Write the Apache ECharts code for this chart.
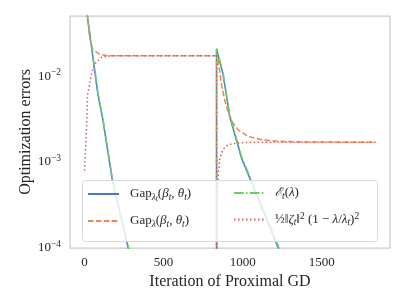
<!DOCTYPE html>
<html>
<head>
<meta charset="utf-8">
<script src="https://cdn.jsdelivr.net/npm/echarts@6/dist/echarts.min.js"></script>
<style>html,body{margin:0;padding:0;background:#fff}#c{width:407px;height:305px}</style>
</head>
<body>
<div id="c"></div>
<script>
// ---- data ----
const xTicks = [0, 500, 1000, 1500];
const yTicks = [1e-4, 1e-3, 1e-2];

const iterBlue = [0, 19, 84, 116, 175, 274, 300, 835, 835, 875, 918, 960, 992, 1223, 1250, 1840];
const gapLambdaT = [0.0875, 0.048, 0.0062, 0.0031, 0.000628, 0.000103, 6e-5, 1e-9, 0.0205, 0.01074, 0.00339, 0.00182, 0.00112, 0.000103, 7.5e-5, 1e-7];

const iterOrange = [0, 19, 32, 51, 95, 146, 835, 844, 854, 865, 886, 907, 939, 970, 1034, 1118, 1223, 1392, 1840];
const gapLambda = [0.1, 0.048, 0.0282, 0.0205, 0.01795, 0.0172, 0.0172, 0.0153, 0.01172, 0.00824, 0.00528, 0.00387, 0.00284, 0.00238, 0.00199, 0.00182, 0.00174, 0.00171, 0.0017];

const iterGreen = [0, 19, 84, 116, 175, 276, 300, 835, 835, 875, 918, 960, 992, 1225, 1250, 1840];
const epsT = [0.09, 0.05, 0.0065, 0.0032, 0.00066, 0.000106, 6.5e-5, 1e-9, 0.021, 0.0112, 0.00355, 0.0019, 0.00117, 0.000106, 8e-5, 1e-7];

const iterRed = [0, 13, 19, 44, 63, 108, 171, 835, 835, 838, 843, 854, 875, 907, 970, 1050, 1840];
const zetaTerm = [0.000798, 0.00257, 0.00603, 0.01054, 0.01377, 0.0166, 0.0172, 0.0172, 1e-9, 0.00025, 0.0006, 0.00107, 0.0014, 0.00159, 0.00167, 0.0017, 0.0017];

const seriesNames = ['gapLt', 'gapL', 'eps', 'zeta'];
const legendLabels = {
  gapLt: 'Gap{s|λ}{ss|t}({i|β}{s|t}, {i|θ}{s|t})',
  gapL: 'Gap{s|λ}({i|β}{s|t}, {i|θ}{s|t})',
  eps: '{sc|ℰ}{s|t}({i|λ})',
  zeta: '½‖{i|ζ}{s|t}‖{p|2} (1 − {i|λ}/{i|λ}{s|t}){p|2}'
};

const zip = (xs, ys) => xs.map((x, i) => [x, ys[i]]);

const FONT = 'Liberation Serif';
const TXT = '#262626';
const rich = {
  i: { fontFamily: FONT, fontSize: 13, fontStyle: 'italic', color: TXT, lineHeight: 16 },
  sc: { fontFamily: 'DejaVu Serif', fontSize: 12, fontStyle: 'italic', color: TXT, lineHeight: 16 },
  s: { fontFamily: FONT, fontSize: 9.5, fontStyle: 'italic', color: TXT, lineHeight: 16, padding: [6, 0, 0, 0] },
  ss: { fontFamily: FONT, fontSize: 7.5, fontStyle: 'italic', color: TXT, lineHeight: 16, padding: [10, 0, 0, 0] },
  p: { fontFamily: FONT, fontSize: 9.5, color: TXT, lineHeight: 16, padding: [0, 0, 7, 0] }
};

const chart = echarts.init(document.getElementById('c'), null, { renderer: 'canvas' });

function lineSeries(name, data, color, type) {
  return {
    name, type: 'line', data, showSymbol: false, symbol: 'none', clip: true,
    lineStyle: { color, width: 1.5, type },
    itemStyle: { color }
  };
}

const legendCommon = {
  orient: 'vertical', padding: 0, itemGap: 10, itemHeight: 14,
  z: 101,
  itemStyle: { opacity: 0, borderWidth: 0 },
  formatter: (n) => legendLabels[n],
  textStyle: { fontFamily: FONT, fontSize: 13, color: TXT, lineHeight: 16, padding: [0, 0, 0, 6], rich }
};

chart.setOption({
  animation: false,
  backgroundColor: '#ffffff',
  grid: { left: 70, top: 16, right: 17, bottom: 57, show: true, borderColor: '#cccccc', borderWidth: 1.25, backgroundColor: 'transparent' },
  xAxis: {
    type: 'value', min: -92, max: 1932,
    name: 'Iteration of Proximal GD', nameLocation: 'middle', nameGap: 24,
    nameTextStyle: { fontFamily: FONT, fontSize: 16, color: TXT },
    axisLine: { show: false }, axisTick: { show: false }, splitLine: { show: false },
    axisLabel: { customValues: xTicks, fontFamily: FONT, fontSize: 13, color: TXT, margin: 8, formatter: (v) => String(v) }
  },
  yAxis: {
    type: 'log', min: 1e-4, max: 0.05,
    name: 'Optimization errors', nameLocation: 'middle', nameGap: 36, nameMoveOverlap: false,
    nameTextStyle: { fontFamily: FONT, fontSize: 16, color: TXT },
    axisLine: { show: false }, axisTick: { show: false }, splitLine: { show: false }, minorTick: { show: false },
    axisLabel: {
      customValues: yTicks,
      margin: 9, fontFamily: FONT, fontSize: 13, color: TXT,
      formatter: (v) => {
        const e = Math.round(Math.log10(v));
        if (Math.abs(Math.log10(v) - e) > 1e-6) return '';
        return '10{e|−' + (-e) + '}';
      },
      rich: { e: { fontFamily: FONT, fontSize: 9.5, color: TXT, padding: [0, 0, 8, 0] } }
    }
  },
  graphic: [{
    type: 'rect', z: 100, silent: true,
    shape: { x: 82.5, y: 180.5, width: 295, height: 61, r: 3 },
    style: { fill: 'rgba(255,255,255,0.8)', stroke: '#d9d9d9', lineWidth: 1 }
  }],
  legend: [
    Object.assign({}, legendCommon, { left: 87, top: 185, itemWidth: 31, data: ['gapLt', 'gapL'] }),
    Object.assign({}, legendCommon, { left: 233, top: 185, itemWidth: 30, data: ['eps', 'zeta'] })
  ],
  series: [
    lineSeries('gapLt', zip(iterBlue, gapLambdaT), '#4878d0', 'solid'),
    lineSeries('gapL', zip(iterOrange, gapLambda), '#ee854a', [5.5, 2.4]),
    lineSeries('eps', zip(iterGreen, epsT), '#6acc64', [9.6, 2.4, 1.5, 2.4]),
    lineSeries('zeta', zip(iterRed, zetaTerm), '#d65f5f', [1.5, 2.5])
  ]
});
</script>
</body>
</html>
